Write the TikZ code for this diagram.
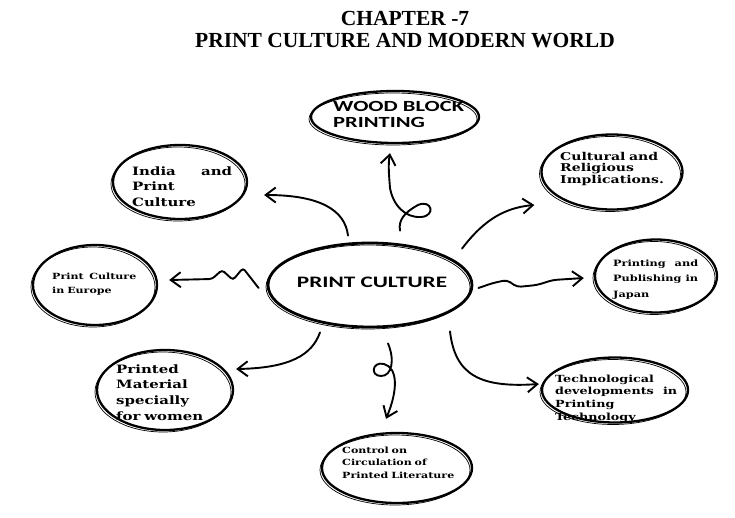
\documentclass[tikz,border=0pt]{standalone}
\usepackage{fontspec}
\setmainfont{Liberation Serif}
\newfontfamily\capfont[FakeStretch=1.45]{Carlito}
\newfontfamily\boxfont[FakeStretch=1.3]{DejaVu Serif}
\usetikzlibrary{shapes.geometric,arrows.meta}

\tikzset{
  bubble/.style={ellipse, draw, line width=2.3pt, inner sep=0pt,
    postaction={draw, line width=0.7pt, transform canvas={shift={(-2pt,-2pt)}}}},
  boxtext/.style 2 args={anchor=base west, inner sep=0pt, align=left,
    font=\boxfont\bfseries\fontsize{#1}{#2}\selectfont},
  captext/.style={inner sep=0pt, align=left, font=\capfont\bfseries},
  arr/.style={line width=1.9pt, line cap=round,
    -{Straight Barb[length=10pt,width=15pt,line width=1.9pt]}},
}

\begin{document}
\begin{tikzpicture}[x=1pt, y=-1pt] % pixel grid of the page
\useasboundingbox (0,0) rectangle (735,517);

\node[anchor=base, font=\bfseries\fontsize{21.5}{26}\selectfont] (title1) at (405,25) {CHAPTER -7};
\node[anchor=base, font=\bfseries\fontsize{21.5}{26}\selectfont] (title2) at (405,47) {PRINT CULTURE AND MODERN WORLD};

\node[bubble, line width=2.8pt, minimum width=204pt, minimum height=84pt] (pc) at (370,285) {};
\node[bubble, minimum width=168pt, minimum height=52pt] (wb) at (395,117) {};
\node[bubble, minimum width=134pt, minimum height=74pt] (india) at (180,182) {};
\node[bubble, minimum width=141pt, minimum height=75pt] (cult) at (612,172) {};
\node[bubble, minimum width=124pt, minimum height=80pt] (eu) at (95,285) {};
\node[bubble, minimum width=122pt, minimum height=73pt] (jp) at (656,276) {};
\node[bubble, minimum width=136pt, minimum height=80pt] (mat) at (165,390) {};
\node[bubble, minimum width=150pt, minimum height=70pt] (ctl) at (397,468) {};
\node[bubble, minimum width=146pt, minimum height=65pt] (tech) at (615,390) {};

\node[captext, anchor=base, font=\capfont\bfseries\fontsize{16}{18}\selectfont] (pc-t) at (372,287) {PRINT CULTURE};
\node[captext, anchor=base west, text width=140pt, font=\capfont\bfseries\fontsize{15.5}{16}\selectfont] (wb-t) at (333,111) {WOOD BLOCK\\PRINTING};
\node[boxtext={11.5}{15.5}, text width=100pt] (india-t) at (132,175) {India\hfill and\\Print\\Culture};
\node[boxtext={10.8}{11.8}, text width=110pt] (cult-t) at (560,160) {Cultural and\\Religious\\Implications.};
\node[boxtext={8.5}{14}, text width=95pt] (eu-t) at (52,279) {Print\ \ Culture\\in Europe};
\node[boxtext={8.7}{15.5}, text width=85pt] (jp-t) at (613,266) {Printing\hfill and\\Publishing\hfill in\\Japan};
\node[boxtext={11.5}{15.7}, text width=100pt] (mat-t) at (116,373) {Printed\\Material\\specially\\for women};
\node[boxtext={8.5}{12.5}, text width=115pt] (ctl-t) at (342,453) {Control on\\Circulation of\\Printed Literature};
\node[boxtext={9.8}{12.7}, text width=122pt] (tech-t) at (555,382) {Technological\\developments\hfill in\\Printing\\Technology};

\draw[arr] ([shift={(30pt,11pt)}]pc.north) .. controls (398,220) and (405,212) .. (418,205)
  .. controls (432,199) and (436,216) .. (421,217) .. controls (405,218) and (393,205) .. (390,188)
  .. controls (389,175) and (388,165) .. ([shift={(-5pt,-9pt)}]wb.south);
\draw[arr] ([shift={(-22pt,6pt)}]pc.north) .. controls (345,210) and (320,195) .. ([shift={(16pt,-13pt)}]india.east);
\draw[arr] ([shift={(92pt,-7pt)}]pc.north) .. controls (480,225) and (500,208) .. ([shift={(-6pt,-33pt)}]cult.west);
\draw[arr, rounded corners=3pt] ([shift={(-8pt,-3pt)}]pc.west) -- (243,268) -- (233,280) -- (222,270)
  -- (212,279) -- ([shift={(11pt,5pt)}]eu.east);
\draw[arr, rounded corners=4pt] ([shift={(5pt,-3pt)}]pc.east) -- (493,283) -- (507,280) -- (517,287)
  -- (537,285) -- (553,280) -- ([shift={(-10pt,-2pt)}]jp.west);
\draw[arr] ([shift={(-50pt,-4pt)}]pc.south) .. controls (312,355) and (290,368) .. ([shift={(2pt,21pt)}]mat.east);
\draw[arr] ([shift={(18pt,-15pt)}]pc.south) .. controls (395,360) and (392,376) .. (381,376)
  .. controls (370,376) and (372,361) .. (384,364) .. controls (398,368) and (398,390) .. ([shift={(-11pt,13pt)}]ctl.north);
\draw[arr] ([shift={(80pt,-3pt)}]pc.south) .. controls (455,375) and (480,388) .. ([shift={(-2pt,6pt)}]tech.west);
\end{tikzpicture}
\end{document}
